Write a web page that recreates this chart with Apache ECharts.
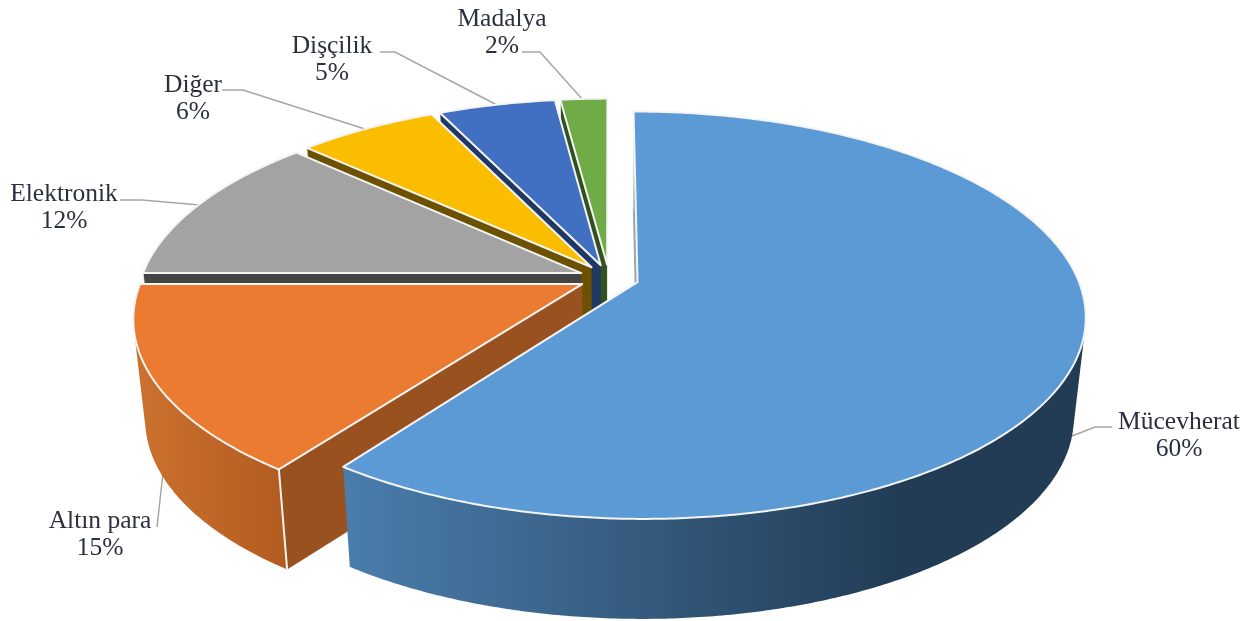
<!DOCTYPE html>
<html><head><meta charset="utf-8">
<style>html,body{margin:0;padding:0;background:#fff}#c{width:1250px;height:621px;filter:blur(0.6px)}</style>
<script src="https://cdn.jsdelivr.net/npm/echarts@6/dist/echarts.min.js"></script>
</head><body><div id="c"></div>
<script>
// ---- data ----
const categories = ['Mücevherat','Altın para','Elektronik','Diğer','Dişçilik','Madalya'];
const shares = [60,15,12,6,5,2];
// ---- styles ----
const topColors = ['#5B9AD5','#EA7B30','#A3A3A3','#FBBD00','#4170C2','#6FAC47'];
const cutColors = ['#9aa5b0','#99511F','#454545','#6B5100','#1F3864','#34501F'];
const rimStops = [
  ['#4A7DAC','#223C55'],['#CC7230','#B25C20'],['#666','#666'],
  ['#8a6a00','#8a6a00'],['#2a4a80','#2a4a80'],['#446a2a','#446a2a']];
const rimSpans = [[345,900],[135,285],[140,580],[310,590],[440,600],[560,610]];
const paintOrder = [5,4,3,2,1,0];
// label centre and leader polyline per category
const labelAt = [[1179,436],[100,535],[64,208],[193,99],[332,60],[502,33]];
const leaders = [
  [[1112,427],[1095,427],[1072,436]],
  [[157,527],[163,473]],
  [[120,200],[142,200],[200,205]],
  [[222,90],[243,90],[368,130]],
  [[380,52],[395,52],[497,105]],
  [[522,52],[540,52],[583,100]]];
// ---- projection of the tilted pie ----
const cx=609, cy=278, R=440, Ry=197, k=0.1617, explode=0.068, depth=100, shrink=0.975;
const D2R=Math.PI/180;
const total=shares.reduce((a,b)=>a+b,0);
function project(X,Y){const s=1/(1+k*Y);return [cx+R*X*s, cy-Ry*Y*s];}
function lower(p){return [cx+(p[0]-cx)*shrink,p[1]+depth];}
function facesViewer(a,b){const g=lower(a);return (b[0]-a[0])*(g[1]-a[1])-(b[1]-a[1])*(g[0]-a[0])<0;}

function renderItem(params,api){
  const i=params.dataIndex;
  let before=0; for(let j=0;j<i;j++) before+=api.value(1,j);
  const a0=before/total*360, a1=(before+api.value(1))/total*360, m=(a0+a1)/2*D2R;
  const ox=explode*Math.sin(m), oy=explode*Math.cos(m);
  const apex=project(ox,oy), rim=[];
  for(let a=a0;;a+=0.5){const t=Math.min(a,a1)*D2R;rim.push(project(ox+Math.sin(t),oy+Math.cos(t)));if(a>=a1)break;}
  const z=paintOrder.indexOf(i)*10+10;
  const children=[];
  const span=rimSpans[i], stops=rimStops[i];
  const grad=new echarts.graphic.LinearGradient(span[0],0,span[1],0,[{offset:0,color:stops[0]},{offset:1,color:stops[1]}],true);
  const front=[];
  for(let j=0;j<rim.length-1;j++){
    if(facesViewer(rim[j],rim[j+1])){ if(!front.length) front.push(rim[j]); front.push(rim[j+1]); }
    else if(front.length) break;
  }
  if(front.length>1){
    children.push({type:'polygon',z2:z,shape:{points:front.concat(front.map(lower).reverse())},style:{fill:grad}});
  }
  const first=rim[0];
  children.push({type:'polygon',z2:z+1,shape:{points:[apex,first,lower(first),lower(apex)]},style:{fill:cutColors[i]}});
  children.push({type:'line',z2:z+2,shape:{x1:first[0],y1:first[1],x2:lower(first)[0],y2:lower(first)[1]},style:{stroke:'#f2f2f2',lineWidth:i===1?2:0.8}});
  children.push({type:'polygon',z2:z+3,shape:{points:[apex].concat(rim)},style:{fill:topColors[i],stroke:'#f4f4f4',lineWidth:2,lineJoin:'round'}});
  const pts=leaders[i];
  children.push({type:'polyline',z2:1,shape:{points:pts},style:{fill:null,stroke:'#A6A6A6',lineWidth:1.5}});
  const c=labelAt[i];
  children.push({type:'text',z2:100,style:{x:c[0],y:c[1]-27,text:api.value(2)+'\n'+api.value(1)+'%',
    fill:'#2b3040',font:'25.5px "Liberation Serif"',lineHeight:27,align:'center',verticalAlign:'top'}});
  return {type:'group',children};
}
const chart=echarts.init(document.getElementById('c'),null,{renderer:'canvas'});
chart.setOption({
  animation:false,
  backgroundColor:'#fff',
  series:[{type:'custom',coordinateSystem:'none',silent:true,renderItem,
    dimensions:['idx','share',{name:'cat',type:'ordinal'}],
    data:categories.map((n,i)=>[i,shares[i],n]),
    encode:{}}]
});
</script></body></html>
